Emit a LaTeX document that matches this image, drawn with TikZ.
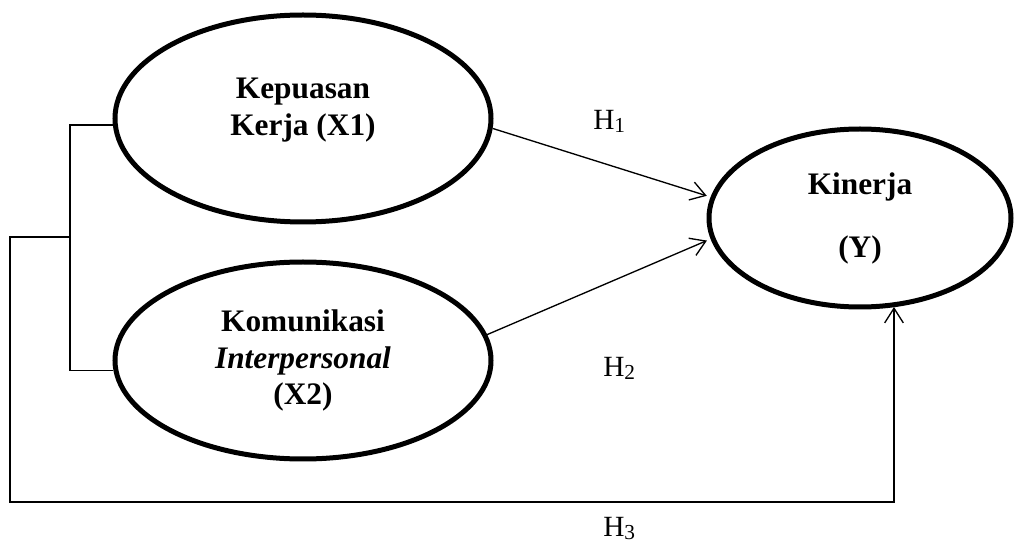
\documentclass[tikz,border=0pt]{standalone}
\usepackage{fontspec}
\setmainfont{Liberation Serif}
\usetikzlibrary{shapes.geometric, arrows.meta}

\newcommand{\hyp}[1]{H\raisebox{-2.25pt}{\fontsize{16pt}{16pt}\selectfont #1}}

\begin{document}
\begin{tikzpicture}[
    x=0.75pt, y=-0.75pt,
    every node/.style={font=\fontsize{23.5pt}{27.5pt}\selectfont},
    latNode/.style={ellipse, draw, line width=3.75pt, minimum width=282pt, inner sep=0pt, align=center, font=\fontsize{23.5pt}{27.5pt}\selectfont\bfseries},
    txtNode/.style={align=center, font=\fontsize{23.5pt}{27.5pt}\selectfont\bfseries},
    hLabel/.style={anchor=base west, inner sep=0pt, font=\fontsize{22pt}{26pt}\selectfont},
    edge/.style={draw, line width=1pt},
    arrEdge/.style={edge, -{Straight Barb[length=11pt, width=14pt]}}
]
    \useasboundingbox (0,0) rectangle (1015,545);

    % constructs
    \node[latNode, minimum height=155.25pt] (X1) at (303,118.5) {};
    \node[txtNode] (X1txt) at (303,110) {Kepuasan\\Kerja (X1)};
    \node[latNode, minimum height=147.75pt] (X2) at (303,360.5) {Komunikasi\\\textit{Interpersonal}\\(X2)};
    \node[latNode, minimum width=226.5pt, minimum height=133.5pt] (Y) at (860,218) {Kinerja\\[19.75pt](Y)};

    \coordinate (bus) at (70,237);
    \coordinate (corner) at (10,502);
    \coordinate (t3) at (894,307);

    % left bracket joining X1 and X2
    \draw[edge] (X1.182) -- (X1.182 -| bus) -- (X2.183 -| bus) -- (X2.183);

    % hypotheses
    \draw[arrEdge, shorten >=3pt] (X1.-3) -- (Y.172);
    \draw[arrEdge, shorten >=3pt] (X2.8) -- (Y.188);
    \draw[arrEdge] (bus) -| (corner) -| (t3);

    \node[hLabel] (h1) at (593,130) {\hyp{1}};
    \node[hLabel] (h2) at (603,377) {\hyp{2}};
    \node[hLabel] (h3) at (603,537) {\hyp{3}};
\end{tikzpicture}
\end{document}
